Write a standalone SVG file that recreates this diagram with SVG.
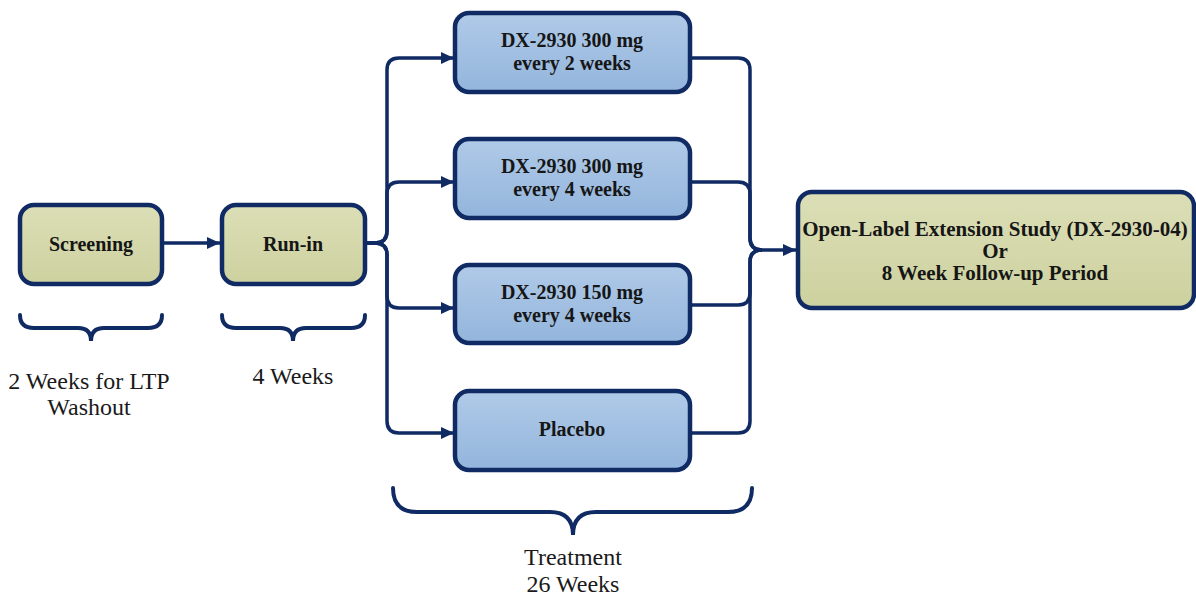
<svg xmlns="http://www.w3.org/2000/svg" width="1196" height="596" viewBox="0 0 1196 596">
<defs>
<linearGradient id="gGreen" x1="0" y1="0" x2="0" y2="1">
<stop offset="0" stop-color="#dcdfb6"/>
<stop offset="1" stop-color="#cdd19f"/>
</linearGradient>
<linearGradient id="gBlue" x1="0" y1="0" x2="0" y2="1">
<stop offset="0" stop-color="#b0cae8"/>
<stop offset="1" stop-color="#93b5dc"/>
</linearGradient>
<marker id="arr" markerUnits="userSpaceOnUse" markerWidth="13" markerHeight="12" refX="13" refY="6" orient="auto">
<path d="M0,0 L13,6 L0,12 z" fill="#102a63"/>
</marker>
<style>
.box{stroke:#102a63;stroke-width:4.5}
.green{fill:url(#gGreen)}
.blue{fill:url(#gBlue)}
.bt{font-family:'Liberation Serif','Times New Roman',Tinos,'DejaVu Serif',serif;font-weight:bold;font-size:20px;fill:#161616;text-anchor:middle}
.big{font-size:21px}
.rt{font-family:'Liberation Serif','Times New Roman',Tinos,'DejaVu Serif',serif;font-size:24px;fill:#1a1a1a;text-anchor:middle}
.con{fill:none;stroke:#102a63;stroke-width:3.5}
.brace{fill:none;stroke:#102a63;stroke-width:4;stroke-linecap:round}
</style>
</defs>
<rect width="1196" height="596" fill="#ffffff"/>

<g id="connectors">
<path class="con" d="M162,243 H220" marker-end="url(#arr)"/>
<path class="con" d="M365,243 H375 Q387,243 387,231 V70 Q387,58 399,58 H454" marker-end="url(#arr)"/>
<path class="con" d="M365,243 H375 Q387,243 387,231 V194 Q387,182 399,182 H454" marker-end="url(#arr)"/>
<path class="con" d="M365,243 H375 Q387,243 387,255 V296 Q387,308 399,308 H454" marker-end="url(#arr)"/>
<path class="con" d="M365,243 H375 Q387,243 387,255 V421 Q387,433 399,433 H454" marker-end="url(#arr)"/>
<path class="con" d="M690,58 H738 Q750,58 750,70 V238 Q750,250 762,250 H796" marker-end="url(#arr)"/>
<path class="con" d="M690,182 H738 Q750,182 750,194 V238 Q750,250 762,250"/>
<path class="con" d="M690,305 H738 Q750,305 750,293 V262 Q750,250 762,250"/>
<path class="con" d="M690,433 H738 Q750,433 750,421 V262 Q750,250 762,250"/>
</g>

<g id="screening">
<rect class="box green" x="20" y="205" width="142" height="79" rx="14"/>
<text class="bt" x="91" y="251">Screening</text>
</g>
<g id="runin">
<rect class="box green" x="222" y="205" width="143" height="79" rx="14"/>
<text class="bt" x="293" y="251">Run-in</text>
</g>
<g id="arm1">
<rect class="box blue" x="455" y="13" width="235" height="79" rx="14"/>
<text class="bt" x="572" y="47">DX-2930 300 mg</text>
<text class="bt" x="572" y="70">every 2 weeks</text>
</g>
<g id="arm2">
<rect class="box blue" x="455" y="139" width="235" height="79" rx="14"/>
<text class="bt" x="572" y="173">DX-2930 300 mg</text>
<text class="bt" x="572" y="196">every 4 weeks</text>
</g>
<g id="arm3">
<rect class="box blue" x="455" y="265" width="235" height="78" rx="14"/>
<text class="bt" x="572" y="299">DX-2930 150 mg</text>
<text class="bt" x="572" y="322">every 4 weeks</text>
</g>
<g id="placebo">
<rect class="box blue" x="455" y="391" width="235" height="79" rx="14"/>
<text class="bt" x="572" y="436">Placebo</text>
</g>
<g id="extension">
<rect class="box green" x="798" y="192" width="396" height="116" rx="14"/>
<text class="bt big" x="995" y="236">Open-Label Extension Study (DX-2930-04)</text>
<text class="bt big" x="995" y="258">Or</text>
<text class="bt big" x="995" y="280">8 Week Follow-up Period</text>
</g>

<g id="brace-screening">
<path class="brace" d="M20,315 Q20,328 34,328 H78 Q91,328 91,341 Q91,328 104,328 H148 Q162,328 162,315"/>
<text class="rt" x="89" y="389">2 Weeks for LTP</text>
<text class="rt" x="89" y="415">Washout</text>
</g>
<g id="brace-runin">
<path class="brace" d="M222,315 Q222,328 236,328 H280 Q293,328 293,341 Q293,328 306,328 H351 Q365,328 365,315"/>
<text class="rt" x="293" y="384">4 Weeks</text>
</g>
<g id="brace-treatment">
<path class="brace" d="M393,488 Q393,512 417,512 H550 Q573,512 573,535 Q573,512 596,512 H728 Q752,512 752,488"/>
<text class="rt" x="573" y="565">Treatment</text>
<text class="rt" x="573" y="592">26 Weeks</text>
</g>
</svg>
